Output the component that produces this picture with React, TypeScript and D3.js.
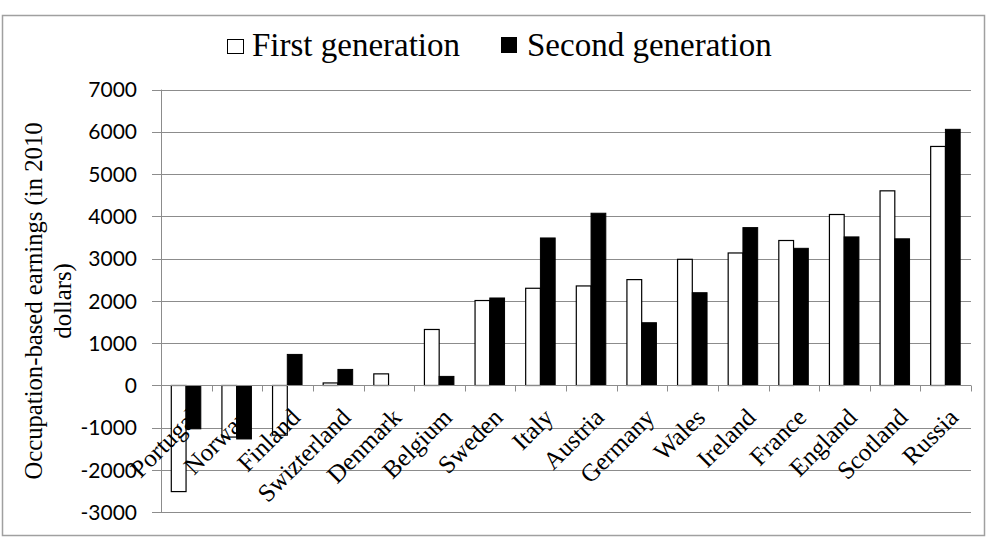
import React from 'react';
import * as d3 from 'd3';

const categories = ['Portugal', 'Norway', 'Finland', 'Swizterland', 'Denmark', 'Belgium', 'Sweden', 'Italy', 'Austria', 'Germany', 'Wales', 'Ireland', 'France', 'England', 'Scotland', 'Russia'];
const firstGen = [-2510, -1220, -1175, 60, 275, 1325, 2010, 2300, 2355, 2505, 2985, 3135, 3430, 4045, 4605, 5655];
const secondGen = [-1025, -1265, 735, 380, 0, 215, 2070, 3490, 4075, 1485, 2195, 3735, 3245, 3515, 3470, 6060];
const yTicks = [-3000, -2000, -1000, 0, 1000, 2000, 3000, 4000, 5000, 6000, 7000];

const W = 1000;
const H = 549;

const App: React.FC = () => {
  const x = d3.scaleBand<string>().domain(categories).range([161, 971]).padding(0);
  const y = d3.scaleLinear().domain([-3000, 7000]).range([512.3, 89.6]);
  const inner = d3.scaleBand<string>().domain(['first', 'second']).range([10.3, 39.8]).padding(0);
  const serif = '"Liberation Serif", "Times New Roman", serif';
  const sans = 'Lato, "Open Sans", sans-serif';

  return (
    <div style={{ position: 'absolute', left: 0, top: 0 }}>
      <svg width={W} height={H} style={{ display: 'block', background: '#fff' }}>
        <rect x={2.5} y={15.5} width={982} height={520} fill="#fff" stroke="#a0a0a0" strokeWidth={1.5} />

        {/* legend */}
        <rect x={227.5} y={39.5} width={16} height={14} fill="#fff" stroke="#000" strokeWidth={1} />
        <text x={252} y={56} fontFamily={serif} fontSize={33} fill="#000">First generation</text>
        <rect x={501} y={37} width={16} height={16} fill="#000" />
        <text x={527} y={56} fontFamily={serif} fontSize={33} fill="#000">Second generation</text>

        {/* gridlines + y ticks */}
        {yTicks.map((t) => (
          <g key={t}>
            <line x1={152} x2={971} y1={Math.round(y(t)) + 0.5} y2={Math.round(y(t)) + 0.5} stroke="#8c8c8c" strokeWidth={1} />
            <text x={137} y={y(t)} dy="0.36em" textAnchor="end" fontFamily={sans} fontSize={21} fill="#000">{t}</text>
          </g>
        ))}
        <line x1={161.5} x2={161.5} y1={y(7000)} y2={y(-3000)} stroke="#8c8c8c" strokeWidth={1} />

        {/* bars */}
        {categories.map((c, i) => {
          const x0 = x(c) as number;
          const a = firstGen[i];
          const b = secondGen[i];
          return (
            <g key={c}>
              <rect
                x={x0 + (inner('first') as number)}
                y={y(Math.max(0, a))}
                width={inner.bandwidth()}
                height={Math.abs(y(a) - y(0))}
                fill="#fff"
                stroke="#000"
                strokeWidth={1.2}
              />
              {b !== 0 && (
                <rect
                  x={x0 + (inner('second') as number)}
                  y={y(Math.max(0, b))}
                  width={inner.bandwidth()}
                  height={Math.abs(y(b) - y(0))}
                  fill="#000"
                  stroke="#000"
                  strokeWidth={1}
                />
              )}
            </g>
          );
        })}

        {/* x axis with ticks */}
        <line x1={161} x2={971} y1={y(0)} y2={y(0)} stroke="#8c8c8c" strokeWidth={1} />
        {d3.range(categories.length + 1).map((k) => {
          const tx = Math.round(161 + x.step() * k) + 0.5;
          return <line key={k} x1={tx} x2={tx} y1={y(0)} y2={y(0) + 6} stroke="#8c8c8c" strokeWidth={1} />;
        })}

        {/* category labels */}
        {categories.map((c) => {
          const cx = (x(c) as number) + x.step() / 2 + 14;
          return (
            <text key={c} transform={`translate(${cx},${419}) rotate(-45)`} textAnchor="end" fontFamily={serif} fontSize={25} fill="#000">
              {c}
            </text>
          );
        })}

        {/* y label */}
        <text transform={`translate(42,${301}) rotate(-90)`} textAnchor="middle" fontFamily={serif} fontSize={24.7} fill="#000">
          Occupation-based earnings (in 2010
        </text>
        <text transform={`translate(71,${301}) rotate(-90)`} textAnchor="middle" fontFamily={serif} fontSize={24.7} fill="#000">
          dollars)
        </text>
      </svg>
    </div>
  );
};

export default App;
